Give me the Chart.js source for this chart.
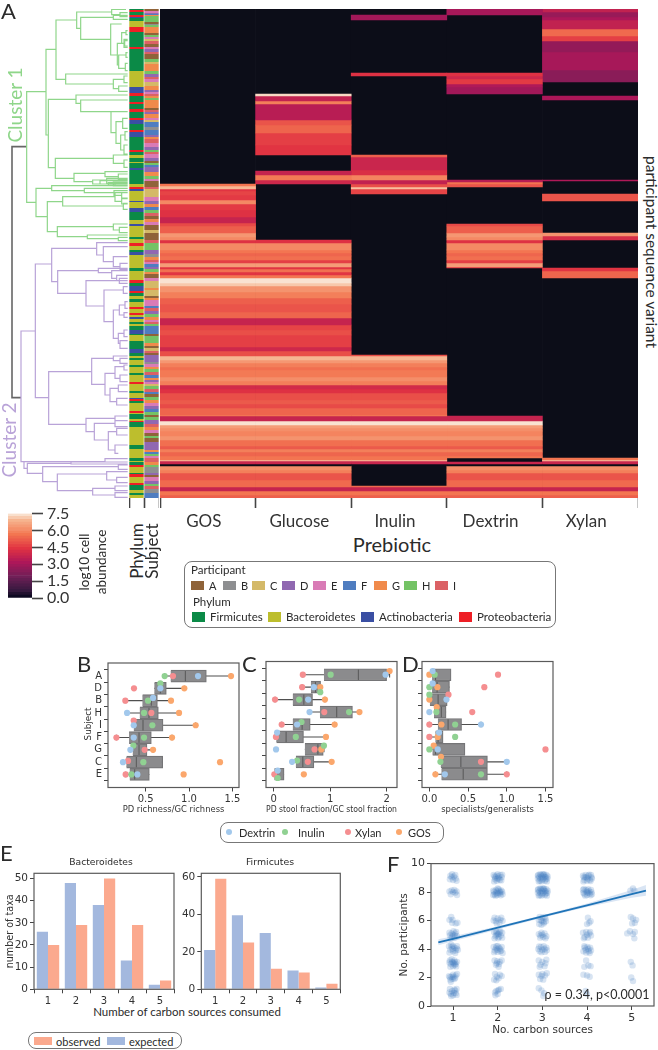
<!DOCTYPE html>
<html>
<head>
<meta charset="utf-8">
<title>Prebiotic figure</title>
<script src="https://cdn.jsdelivr.net/npm/chart.js@4/dist/chart.umd.js"></script>
<style>
html, body { margin: 0; padding: 0; background: #fff; }
#fig { position: relative; width: 658px; height: 1050px; overflow: hidden; }
#fig canvas { position: absolute; }
.txt { position: absolute; white-space: nowrap; color: #2b2b2b; line-height: 1; }
.box { position: absolute; border: 1px solid #777; border-radius: 8px; box-sizing: border-box; background: #fff; }
.sw { position: absolute; }
</style>
</head>
<body>
<div id="fig"></div>
<script>
// ---- panel A: heatmap, values are log10 abundance, rows are positions down the map
var prebiotics = ['GOS', 'Glucose', 'Inulin', 'Dextrin', 'Xylan'];

var stripeRows = [
  [184,186,5.6],[186,189,6.9],[189,191,4.4],[191,195,4.7],[195,200,4.5],[200,204,6.0],[204,210,4.5],[210,217,4.3],[217,223,3.7],
  [223,226,4.8],[226,233,5.2],[233,237,6.3],[237,240,6.0],[240,243,4.3],[243,250,6.0],[250,253,5.6],[253,256,5.3],[256,260,5.5],[260,263,4.6],
  [263,267,6.4],[267,269,4.4],[269,272,5.5],[272,275,4.4],[275,278,5.6],[278,283,7.4],[283,286,7.1],[286,292,6.2],
  [292,298,5.8],[298,304,5.2],[304,312,5.0],[312,318,5.3],[318,325,3.7],[325,330,4.7],[330,335,4.9],[335,347,4.6],[347,351,3.9],
  [351,356,4.9],[356,360,6.9],[360,363,6.3],[363,367,5.8],[367,370,5.5],[370,377,5.7],[377,381,6.1],[381,385,5.8],[385,389,4.0],[389,393,4.3],
  [393,400,4.9],[400,404,5.1],[404,408,4.8],[408,415,5.3],[415,416,5.7],[416,421,3.7],[421,425,7.4],[425,428,6.4],[428,431,6.1],[431,436,5.9],[436,440,6.2],
  [440,446,5.5],[446,449,5.1],[449,452,5.8],[452,456,5.3],[456,460,5.6],[460,461,7.0],[461,464,3.8],[464,466,0],[466,470,6.1],[470,473,5.8],[473,480,5.0],
  [480,487,5.4],[487,491,3.7],[491,495,5.6],[495,498,5.2]
];
// value ranges of every column where it follows the shared row stripes
var gosStripes = [[184,498]];
var glucoseStripes = [[240,498]];
var inulinStripes = [[355,465],[486,498]];
var dextrinStripes = [[224,268],[416,458],[462,498]];
var xylanStripes = [[458,498]];
// bands specific to one column
var gosBands = [];
var glucoseBands = [[94,96,7.3],[96,101,3.6],[101,104,5.8],[104,120,3.4],[120,125,5.0],[125,133,5.3],[133,145,4.6],[145,155,4.4],
  [171,175,3.7],[175,180,5.7],[180,184,3.9]];
var inulinBands = [[15,20,2.9],[73,76,4.3],[155,157,5.2],[157,170,3.8],[170,175,4.2],[175,180,5.9],[180,184,3.6],[184,187,4.9],[187,189,7.0],[189,194,4.7]];
var dextrinBands = [[9,15,3.0],[73,76,4.3],[76,79,3.9],[79,84,4.5],[84,87,3.2],[87,94,2.9],[180,182,3.4],[182,184,5.6],[184,187,5.0]];
var xylanBands = [[9,12,3.6],[12,17,2.7],[17,20,3.1],[20,29,3.6],[29,36,5.4],[36,41,4.6],[41,52,2.6],[52,70,3.0],[70,82,2.4],
  [96,100,3.1],[180,181,3.2],[194,201,5.0],[233,236,6.2],[236,240,4.1],[268,271,4.4],[271,278,5.3]];

var phylumCodes = { F: 'Firmicutes', B: 'Bacteroidetes', A: 'Actinobacteria', P: 'Proteobacteria' };
// runs down the phylum strip: [code, row where the run ends]
var phylumRuns = [['F',10],['P',12],['F',15],['P',17],['A',18],['F',21],['B',27],['P',32],['F',47],['P',49],['F',71],['B',87],['A',93],['P',96],
  ['F',102],['P',104],['F',109],['P',112],['F',118],['P',120],['A',124],['F',130],['P',132],['A',137],['F',150],['P',152],['F',155],['B',158],
  ['F',162],['B',163],['F',168],['A',170],['F',184],['B',187],['P',189],['A',191],['B',201],['A',202],['B',208],['A',212],['F',220],['B',224],
  ['A',226],['B',237],['F',239],['B',243],['P',246],['B',250],['F',252],['A',255],['B',268],['F',271],['B',280],['P',283],['F',286],['A',291],
  ['P',293],['F',296],['B',299],['F',302],['B',307],['P',309],['B',313],['P',315],['B',317],['A',319],['B',322],['F',324],['B',326],['F',330],
  ['A',334],['F',335],['B',341],['F',349],['A',353],['F',356],['B',358],['F',360],['B',365],['F',367],['B',373],['F',375],['B',382],['P',384],
  ['B',391],['F',393],['B',398],['A',399],['P',401],['F',403],['B',411],['P',413],['B',414],['F',419],['B',421],['P',422],['F',427],['B',445],
  ['F',449],['B',458],['F',461],['B',462],['F',465],['P',467],['B',473],['F',474],['P',477],['B',483],['P',485],['F',490],['B',493],['F',495],['B',498]];
// runs down the subject strip
var subjectRuns = [['A',11],['E',13],['D',14],['F',15],['G',16],['H',22],['A',24],['B',25],['H',27],['G',33],['A',35],['H',37],['E',39],['C',41],
  ['I',44],['A',47],['E',49],['D',52],['I',54],['A',59],['H',62],['C',64],['G',71],['H',74],['D',77],['I',79],['E',82],['C',86],['G',90],['D',92],
  ['E',94],['I',96],['G',98],['H',100],['G',108],['A',110],['I',112],['D',114],['G',118],['E',120],['C',122],['F',127],['B',130],['F',135],['D',137],
  ['G',139],['I',143],['E',147],['D',150],['H',152],['I',154],['E',158],['D',161],['A',163],['H',165],['F',167],['D',172],['G',176],['H',179],['E',181],
  ['A',187],['I',189],['C',197],['E',201],['D',204],['G',207],['F',210],['H',213],['I',216],['A',219],['G',222],['E',225],['A',230],['C',233],['A',240],
  ['I',243],['H',250],['D',254],['B',257],['G',260],['I',262],['E',264],['F',267],['D',269],['H',272],['G',274],['A',278],['E',281],['C',288],['G',290],
  ['C',296],['A',298],['G',300],['E',306],['F',308],['I',311],['D',314],['H',317],['G',320],['E',322],['I',324],['H',326],['F',334],['A',336],['H',343],
  ['G',346],['A',348],['C',351],['I',353],['A',355],['D',362],['B',364],['E',367],['G',369],['H',372],['I',375],['F',378],['G',380],['D',382],['E',384],
  ['C',386],['H',389],['I',392],['F',394],['A',397],['H',400],['G',403],['E',406],['D',409],['F',412],['H',415],['A',417],['H',420],['D',424],['I',427],
  ['G',430],['E',433],['A',436],['H',438],['A',442],['D',450],['G',452],['F',454],['H',456],['E',458],['I',462],['G',465],['H',467],['B',473],['D',475],
  ['A',477],['E',481],['D',484],['H',486],['I',489],['B',493],['F',498]];

// dendrogram links in tree units: [merge position, upper row, lower row, upper child position, lower child position]
var rootLink = [[36,440,1193,80,63]];
var cluster1Links = [[80,275,607,138,108],[138,148,405,168,145],[168,60,238,230,197],[230,36,85,335,242],[335,28,44,378,360],[360,38,50,383,383],
  [242,52,118,340,332],[340,46,58,383,383],[332,72,165,365,352],[365,98,130,378,374],[378,92,104,383,383],[374,122,138,383,383],[352,130,195,372,356],
  [372,118,142,383,383],[356,165,205,378,376],[378,158,172,383,383],[376,190,212,383,383],[197,222,252,383,340],[340,238,266,372,356],[372,228,248,383,383],
  [356,258,274,383,383],[145,298,503,228,166],[228,285,310,383,242],[242,300,335,383,333],[333,335,398,383,348],[348,365,430,368,362],[368,355,385,383,383],
  [362,405,450,375,372],[375,395,420,383,383],[372,435,462,383,383],[166,475,535,340,222],[340,465,490,383,372],[372,480,502,383,383],[222,520,545,315,278],
  [315,515,530,383,355],[355,522,538,383,383],[278,540,552,383,340],[340,546,558,383,383],[320,535,550,383,383],[300,542,552,383,383],[325,548,556,383,383],
  [345,552,558,383,383],[108,565,650,155,142],[155,557,572,383,253],[253,565,578,383,342],[342,572,586,383,365],[365,578,594,383,383],[142,605,695,188,172],
  [188,590,618,345,370],[345,578,604,383,365],[365,596,612,383,383],[370,610,628,383,383],[172,680,710,340,262],[340,672,690,383,358],[358,682,698,383,383],
  [262,705,716,383,355],[355,712,722,383,383]];
var cluster2Links = [[63,993,1385,106,72],[106,792,1193,155,146],[155,745,845,290,173],[290,728,765,383,310],[310,740,785,383,340],[340,770,800,383,360],
  [360,790,808,383,383],[173,812,880,295,258],[295,805,818,383,335],[335,812,835,383,350],[350,826,842,383,383],[258,842,918,358,312],[358,835,850,383,383],
  [312,870,965,370,340],[370,860,880,383,383],[340,930,1015,358,355],[358,915,945,375,372],[375,905,925,383,383],[372,938,952,383,383],[355,1000,1030,372,360],
  [372,990,1010,383,383],[360,1022,1045,383,383],[146,1115,1273,275,258],[275,1075,1153,340,315],[340,1068,1082,383,360],[360,1075,1090,383,383],
  [315,1120,1185,345,330],[345,1100,1135,372,360],[372,1095,1110,383,383],[360,1125,1145,383,383],[330,1165,1205,355,350],[355,1155,1175,383,383],
  [350,1195,1215,383,383],[258,1255,1295,345,283],[345,1248,1262,383,375],[283,1270,1320,345,325],[345,1262,1280,383,383],[325,1295,1350,350,345],
  [350,1285,1305,383,383],[345,1335,1360,383,355],[315,1376,1386,383,383],[213,1386,1392,383,383],[72,1385,1405,315,82],[82,1390,1420,213,128],
  [128,1400,1445,355,172],[355,1395,1408,383,383],[172,1422,1472,320,278],[320,1415,1440,383,350],[350,1432,1448,383,383],[278,1465,1485,345,345],
  [345,1458,1472,383,383],[345,1478,1492,383,383]];

var colorbarLevels = [0,0.25,0.5,0.75,1,1.25,1.5,1.75,2,2.25,2.5,2.75,3,3.25,3.5,3.75,4,4.25,4.5,4.75,5,5.25,5.5,5.75,6,6.25,6.5,6.75,7,7.25];
var colorbarTicks = [0, 1.5, 3, 4.5, 6, 7.5];

// ---- panels B, C, D: subjects top to bottom, boxes are [q1, q3], points are [value, row]
var subjects = ['A','D','B','H','I','F','G','C','E'];

var bBoxes = [[.788,1.2],[.6,.738],[.462,.635],[.431,.646],[.362,.7],[.308,.565],[.35,.515],[.277,.696],[.315,.542]];
var bMedians = [.958,.669,.565,.538,.469,.423,.423,.392,.373];
var bWhiskers = [[.719,1.485],[.6,.946],[.265,.792],[.285,.885],[.362,1.077],[.162,.804],[.323,.585],[.238,.696],[.269,.542]];
var bDextrin = [[1.104,0],[.669,1],[.585,1.78],[.285,3],[.362,4],[.362,5],[.323,6],[.238,7],[.404,8]];
var bInulin = [[.719,0],[.669,.6],[.527,2],[.481,3],[.577,4],[.481,5],[.358,5.65],[.473,7],[.335,8]];
var bXylan = [[.815,0],[.365,1],[.265,2],[.565,3],[.362,3.62],[.162,5],[.488,6],[.296,6.9],[.269,8]];
var bGOS = [[1.485,0],[.946,1],[.792,2],[.885,3],[1.077,4],[.804,5],[.585,6],[1.358,7],[.938,8]];

var cBoxes = [[.89,2.0],[.659,.831],[.338,.688],[.819,1.395],[.338,.647],[.047,.528],[.552,.878],[.392,.712],[.012,.184]];
var cMedians = [1.5,.74,.534,1.116,.504,.22,.783,.516,.06];
var cWhiskers = [[.516,2.053],[.504,.831],[.024,.908],[.635,1.519],[.142,1.08],[.04,.926],[.552,.89],[.326,1.027],[.012,.184]];
var cDextrin = [[1.982,0],[.712,1],[.611,2],[.635,3],[.415,4],[.06,4.65],[.042,6],[.326,7],[.071,7.7]];
var cInulin = [[1.009,0],[.825,1.4],[.451,2],[1.335,3],[.493,3.8],[.392,5],[.89,5.7],[.415,6.9],[.071,8.3]];
var cXylan = [[.516,0],[.504,1],[.024,2],[.896,3],[.142,4],[.04,5],[.724,6],[.605,7],[.012,8]];
var cGOS = [[2.053,-.3],[.825,1],[.908,2],[1.519,3],[1.08,4],[.926,5],[.843,6],[1.027,7],[.534,8]];

var dBoxes = [[.035,.28],[.035,.26],[0,.23],[.06,.216],[.11,.416],[.078,.177],[.04,.46],[.147,.75],[.156,.75]];
var dMedians = [.08,.1,.113,.155,.242,.113,.08,.407,.437];
var dWhiskers = [[.035,.28],[.035,.26],[0,.23],[.06,.216],[0,.667],[0,.177],[.04,.46],[.147,1.0],[.078,1.0]];
var dDextrin = [[.043,-.3],[.043,.7],[.221,2],[0,3],[.667,4],[.125,4.65],[.108,6],[1.0,7],[.2,8]];
var dInulin = [[.069,0],[0,1],[0,1.6],[.091,3],[.333,4],[.333,5],[0,6],[.143,7],[.667,8]];
var dXylan = [[.887,0],[.71,1],[.247,1.6],[.554,3],[0,4],[0,5],[1.5,6],[.667,7],[1.0,8]];
var dGOS = [[0,0],[.104,1],[0,2],[.095,2.6],[.156,4],[.108,5],[.056,5.7],[.15,6.6],[.078,8]];

// ---- panel E
var carbonCounts = ['1','2','3','4','5'];
var bacteroidetesExpected = [26,48,38,13,2];
var bacteroidetesObserved = [20,29,50,29,4];
var firmicutesExpected = [21,39.5,30,10,1];
var firmicutesObserved = [59,25,11,9,3];

// ---- panel F: points, [carbon sources, participants]
var fCol1 = [[.94,9.15],[.98,9.25],[1.02,9.1],[1.06,8.95],[.93,8.9],[1,8.85],[1.08,8.8],[.97,9.05],[1.05,9.2],
  [.92,8.05],[.95,7.85],[1,8],[1.05,7.95],[1.09,7.8],[1.03,8.15],[.97,8.12],[1.08,8.05],
  [.96,6.25],[.92,6.05],[.98,5.85],[1.06,5.8],[1.1,5.85],[.99,6.05],
  [.93,4.95],[.97,5.1],[1.01,5.25],[1.05,5.1],[1.09,4.9],[.95,4.75],[1.03,4.8],[1,5],[1.07,5.2],[.98,4.85],[1.04,4.95],[.92,5.15],
  [.91,4.2],[.94,3.95],[.97,4.15],[1,3.85],[1.03,4.1],[1.06,3.9],[1.09,4.2],[1.11,3.95],[.92,3.75],[.96,4.3],[1,4.22],[1.05,3.72],[1.08,4.05],[.99,4],
  [.93,3.2],[.95,2.95],[.98,3.1],[1,2.8],[1.03,3.2],[1.06,2.95],[1.09,3.1],[.94,2.75],[.97,3.28],[1.02,2.98],[1.05,3.08],[1.07,2.78],[.92,3.05],[1,3.05],[1.04,2.88],
  [.91,2.1],[.94,1.85],[.97,2.05],[1,2.2],[1.03,1.9],[1.06,2.15],[1.09,2.25],[.95,1.7],[.99,1.92],[1.05,1.98],[1.01,2.05],[.93,2.02],
  [.93,1.2],[.95,.85],[.98,1.05],[1,.75],[1.03,1.15],[1.06,.9],[1.08,1.2],[.96,.7],[1.02,.92],[1.05,1.08],[.92,.95],[1.08,.78]];
var fCol2 = [[1.91,9.2],[1.94,8.9],[1.97,9.15],[2,9.25],[2.03,8.95],[2.06,9.2],[2.09,9.05],[1.92,8.75],[1.95,9.02],[1.98,8.8],[2.02,9.1],[2.05,8.85],[2.1,9.22],[1.93,9.1],[2.08,8.82],[2,8.95],
  [1.9,8.1],[1.93,7.85],[1.96,8.15],[1.99,7.8],[2.02,8.2],[2.05,7.9],[2.08,8.12],[2.11,7.85],[1.92,8.02],[1.95,7.75],[1.98,8.05],[2.01,7.92],[2.04,8.08],[2.07,7.78],[2.1,8.02],[1.9,7.8],[2,8.25],[1.97,7.92],[2.06,8],
  [1.93,6.2],[1.96,5.95],[2,6.15],[2.04,5.85],[2.08,6.2],[2.11,5.98],[1.91,6],[1.98,5.8],[2.06,6.05],
  [1.92,5.2],[1.95,4.9],[1.98,5.15],[2.01,4.75],[2.04,5.2],[2.07,4.95],[2.1,5.15],[1.93,4.75],[1.97,4.98],[2,5.05],[2.03,4.85],[2.06,5.25],[2.1,4.8],[1.96,5.25],[2.02,5.08],
  [1.91,4.15],[1.94,3.9],[1.97,4.2],[2,3.8],[2.03,4.1],[2.06,3.85],[2.09,4.15],[2.11,3.72],[1.92,3.78],[1.96,4.05],[2,4.22],[2.05,4.02],[1.99,3.95],[2.08,3.9],
  [1.93,3.2],[1.96,2.9],[1.99,3.15],[2.02,2.75],[2.05,3.1],[2.09,3.2],[2.03,2.95],[1.98,3],
  [1.94,2.25],[1.92,1.85],[1.97,1.8],[2.05,2.2],[2.09,2.1],[2.02,1.95],[1.98,2.05],
  [1.95,.75],[1.97,1.05],[2,.85],[2.03,1.15],[2.07,1.2],[1.94,.95],[2.01,1.1]];
var fCol3 = [[2.91,9.2],[2.94,8.8],[2.97,9.2],[3,8.85],[3.03,9.2],[3.06,8.8],[3.09,9.2],[3.11,8.95],[2.9,8.95],[2.93,9.05],[2.96,8.95],[2.99,9.1],[3.02,8.95],[3.05,9.1],[3.08,8.9],[2.92,8.75],[2.98,8.75],[3.04,9.25],[3.1,8.75],[2.95,9.25],[3.01,9.25],[3.07,9.05],[2.9,9.15],[3.12,9.1],
  [2.91,8.2],[2.94,7.8],[2.97,8.2],[3,7.85],[3.03,8.2],[3.06,7.8],[3.09,8.2],[3.11,7.95],[2.9,7.95],[2.93,8.05],[2.96,7.95],[2.99,8.1],[3.02,7.95],[3.05,8.1],[3.08,7.9],[2.92,7.75],[2.98,7.75],[3.04,8.25],[3.1,7.75],[2.95,8.25],[3.01,8.25],[3.07,8.05],[2.9,8.15],[3.12,8.1],
  [2.94,6.25],[2.97,6],[3,6.2],[3.04,5.9],[3.07,6.15],[2.93,5.75],[2.98,5.7],[3.03,5.8],[3.08,5.95],[3,5.95],[3.05,6.25],[2.92,6.05],
  [2.92,5.05],[2.95,4.8],[2.98,5.15],[3.02,4.85],[3.05,5.1],[3.09,4.9],[3,5],[2.96,4.95],[3.07,4.75],
  [2.91,4],[2.94,3.85],[2.97,4.15],[3,3.95],[3.03,4.2],[3.06,3.8],[3.09,4.1],[2.93,4.18],[3.05,4],[2.98,3.78],[3.1,3.92],
  [2.92,3.2],[2.96,2.9],[3,3.1],[3.05,2.8],[3.09,3.25],[2.94,2.75],[3.07,3],
  [2.92,2.2],[2.95,1.9],[2.98,2.1],[3.02,1.85],[3.06,2.15],[3.1,2.3],[3,2.25],
  [2.92,1.25],[2.98,1.1],[3.04,.9],[3.02,.7]];
var fCol4 = [[3.91,9.15],[3.94,8.85],[3.97,9.2],[4,8.8],[4.03,9.15],[4.06,8.85],[4.09,9.2],[4.11,8.95],[3.92,8.75],[3.96,9.02],[3.99,9.05],[4.02,8.95],[4.05,9.22],[4.08,8.78],[3.93,9.05],[4.1,9.05],
  [3.91,8.15],[3.94,7.85],[3.97,8.15],[4,7.8],[4.03,8.2],[4.06,7.9],[4.09,8.15],[4.11,7.85],[3.92,7.95],[3.96,7.75],[3.99,8],[4.02,7.95],[4.05,8.05],[4.08,7.78],[3.93,8.22],[4.1,8],[4,8.1],
  [4.02,6.2],[4.05,5.85],[4.08,5.95],[4,5.75],
  [3.91,5.15],[3.95,4.85],[3.98,5.2],[4.02,4.8],[4.05,5.1],[4.09,4.95],[4,5],[3.93,4.75],[4.07,5.2],
  [3.92,3.85],[3.95,4.1],[3.98,3.75],[4.01,4.15],[4.04,3.85],[4.07,4.1],[4.09,3.9],[3.97,3.95],[4.03,4],[3.94,4.2],[4.06,3.72],
  [3.98,3.2],[3.94,2.75],[4.03,2.85],[4.08,2.8],
  [3.92,2.2],[4,2.15],[4.06,2.05],[3.97,1.05],[4,.85]];
var fCol5 = [[4.97,8.1],[5.03,8.25],[5.06,8.1],[4.98,6.25],[5.03,6.15],[5.07,5.85],[5.1,6.05],[5.01,5.8],[4.9,5.1],[4.96,5.25],[5.03,5.05],[5.07,5.2],[5.06,4.75],[4.98,3.1],[5.02,2.85],[4.99,2],[5.03,1.75]];
var fLineX = [.67,1,2,3,4,5,5.32];
var fLineY = [4.46,4.72,5.5,6.29,7.07,7.86,8.11];
var fBandUpper = [4.68,4.9,5.6,6.38,7.2,8.15,8.5];
var fBandLower = [4.27,4.55,5.38,6.2,6.95,7.6,7.75];

// ---- colours
var rocketStops = ['#03051a','#35193e','#701f57','#ad1759','#e13342','#f37651','#f6b48f','#faebdd'];
var rocketPos = [0, 1/12, 3/12, 5/12, 7/12, 9/12, 11/12, 1];
var heatBackground = '#0c0d18';
var phylumColors = { Firmicutes: '#0b8a47', Bacteroidetes: '#bdbe2d', Actinobacteria: '#3a4fa3', Proteobacteria: '#ee1f26' };
var participantColors = { A: '#8f6339', B: '#8e8f91', C: '#d4b968', D: '#9068b1', E: '#d97bb6', F: '#4f7dc0', G: '#f08a4b', H: '#74c365', I: '#db6165' };
var prebioticDots = { Dextrin: '#a2c8ec', Inulin: '#90d192', Xylan: '#f58e90', GOS: '#fba76c' };
var observedColor = '#fba98e', expectedColor = '#a3b8de';

var SANS = 'Lato, "Open Sans", sans-serif';
var DEJA = '"DejaVu Sans", sans-serif';
var fig = document.getElementById('fig');

Chart.defaults.animation = false;
Chart.defaults.responsive = false;
Chart.defaults.devicePixelRatio = 1;
Chart.defaults.plugins.legend.display = false;
Chart.defaults.plugins.tooltip.enabled = false;
Chart.defaults.color = '#333';

function hexRgb(h) {
  return [parseInt(h.substr(1,2),16), parseInt(h.substr(3,2),16), parseInt(h.substr(5,2),16)];
}
function rocket(v) {
  if (v <= 0) return heatBackground;
  var p = Math.min(1, v / 7.5), i = 0;
  while (i < rocketPos.length - 2 && p > rocketPos[i+1]) i++;
  var a = hexRgb(rocketStops[i]), b = hexRgb(rocketStops[i+1]);
  var t = (p - rocketPos[i]) / (rocketPos[i+1] - rocketPos[i]);
  return 'rgb(' + a.map(function(c, k){ return Math.round(c + (b[k]-c)*t); }).join(',') + ')';
}

function addText(text, x, y, size, o) {
  o = o || {};
  var d = document.createElement('div');
  d.className = 'txt';
  d.textContent = text;
  d.style.left = x + 'px';
  d.style.top = y + 'px';
  d.style.fontSize = size + 'px';
  d.style.fontFamily = o.font || SANS;
  if (o.color) d.style.color = o.color;
  var anchor = o.anchor === 'left' ? '0' : '-50%';
  d.style.transform = 'translate(' + anchor + ',-50%)' + (o.rot ? ' rotate(' + o.rot + 'deg)' : '');
  fig.appendChild(d);
}
function addBox(x, y, w, h) {
  var d = document.createElement('div');
  d.className = 'box';
  d.style.cssText = 'left:' + x + 'px;top:' + y + 'px;width:' + w + 'px;height:' + h + 'px';
  fig.appendChild(d);
}
function addSwatch(color, x, y, w, h, round) {
  var d = document.createElement('div');
  d.className = 'sw';
  d.style.cssText = 'left:' + x + 'px;top:' + y + 'px;width:' + w + 'px;height:' + h + 'px;background:' + color + (round ? ';border-radius:50%' : '');
  fig.appendChild(d);
}

// canvas at outer box, axes get fixed sizes so the plot area lands on the plot box
function makeChart(outer, plot, config) {
  var c = document.createElement('canvas');
  c.width = outer.w; c.height = outer.h;
  c.style.left = outer.x + 'px'; c.style.top = outer.y + 'px';
  fig.appendChild(c);
  var opt = config.options = config.options || {};
  var sx = opt.scales.x, sy = opt.scales.y;
  var leftGap = plot.x - outer.x, rightGap = outer.x + outer.w - plot.x - plot.w, bottomGap = outer.y + outer.h - plot.y - plot.h;
  var xShown = sx.display !== false, yShown = sy.display !== false, yRight = sy.position === 'right';
  opt.layout = { autoPadding: false, padding: {
    left: yShown && !yRight ? 0 : leftGap,
    right: yShown && yRight ? 0 : rightGap,
    top: plot.y - outer.y,
    bottom: xShown ? 0 : bottomGap
  } };
  sx.afterFit = function(s){ s.height = bottomGap; };
  sy.afterFit = function(s){ s.width = yRight ? rightGap : leftGap; };
  return new Chart(c.getContext('2d'), config);
}
function at(list) {
  return function(s) { s.ticks = list.map(function(v){ return { value: v }; }); };
}

var framePlugin = {
  id: 'frame',
  afterDatasetsDraw: function(chart) {
    var a = chart.chartArea, g = chart.ctx;
    g.save();
    g.strokeStyle = '#5a5a5a';
    g.lineWidth = 1.2;
    g.strokeRect(a.left, a.top, a.right - a.left, a.bottom - a.top);
    g.restore();
  }
};

function axisTicks(size, font, extra) {
  return Object.assign({ font: { size: size, family: font || DEJA }, color: '#333', padding: 2 }, extra || {});
}
var tickMarks = { display: true, drawOnChartArea: false, drawTicks: true, tickLength: 4, tickWidth: 1, tickColor: '#444' };
var noBorder = { display: false };

// ---- heatmap
function clipStripes(ranges) {
  var out = [];
  ranges.forEach(function(r) {
    stripeRows.forEach(function(s) {
      var a = Math.max(r[0], s[0]), b = Math.min(r[1], s[1]);
      if (b > a) out.push([a, b, s[2]]);
    });
  });
  return out;
}
var heatColumns = [
  gosBands.concat(clipStripes(gosStripes)),
  glucoseBands.concat(clipStripes(glucoseStripes)),
  inulinBands.concat(clipStripes(inulinStripes)),
  dextrinBands.concat(clipStripes(dextrinStripes)),
  xylanBands.concat(clipStripes(xylanStripes))
];
var heatSets = [{ data: prebiotics.map(function(){ return [9, 498]; }), backgroundColor: heatBackground, order: 5 }];
heatColumns.forEach(function(bands, col) {
  bands.forEach(function(b) {
    var d = prebiotics.map(function(){ return null; });
    d[col] = [b[0], b[1]];
    heatSets.push({ data: d, backgroundColor: rocket(b[2]), order: 1 });
  });
});
makeChart({ x: 160, y: 0, w: 478, h: 532 }, { x: 160, y: 9, w: 478, h: 489 }, {
  type: 'bar',
  data: { labels: prebiotics, datasets: heatSets },
  options: {
    datasets: { bar: { grouped: false, barPercentage: 1, categoryPercentage: 1 } },
    scales: {
      x: { grid: Object.assign({}, tickMarks, { tickLength: 10, tickWidth: 1.6 }), border: noBorder,
           ticks: { font: { size: 17, family: SANS }, color: '#333', padding: 3, maxRotation: 0, labelOffset: -4 } },
      y: { display: false, min: 9, max: 498, reverse: true }
    }
  }
});

// ---- phylum / subject strips
function stripSets(runs, col, colorOf) {
  var from = 9;
  return runs.map(function(r) {
    var d = [null, null];
    d[col] = [from, r[1]];
    from = r[1];
    return { data: d, backgroundColor: colorOf(r[0]) };
  });
}
var stripData = stripSets(phylumRuns, 0, function(c){ return phylumColors[phylumCodes[c]]; })
  .concat(stripSets(subjectRuns, 1, function(c){ return participantColors[c]; }));
makeChart({ x: 129, y: 0, w: 30, h: 512 }, { x: 129, y: 9, w: 30, h: 489 }, {
  type: 'bar',
  data: { labels: ['Phylum', 'Subject'], datasets: stripData },
  options: {
    datasets: { bar: { grouped: false, barPercentage: 1, categoryPercentage: 0.96, inflateAmount: 0 } },
    scales: {
      x: { grid: Object.assign({}, tickMarks, { tickLength: 10, tickWidth: 1.6 }), border: noBorder,
           ticks: { display: false } },
      y: { display: false, min: 9, max: 498, reverse: true }
    }
  }
});

// ---- dendrogram
function linkPoints(links) {
  var pts = [];
  links.forEach(function(l) {
    pts.push({x:l[3],y:l[1]},{x:l[0],y:l[1]},{x:l[0],y:l[2]},{x:l[4],y:l[2]},{x:NaN,y:NaN});
  });
  return pts;
}
function treeSet(links, color, width) {
  return { data: linkPoints(links), borderColor: color, borderWidth: width, showLine: true, pointRadius: 0, spanGaps: false, tension: 0 };
}
makeChart({ x: 0, y: 9, w: 128, h: 489 }, { x: 0, y: 9, w: 128, h: 489 }, {
  type: 'scatter',
  data: { datasets: [
    treeSet(cluster1Links, '#8fd68a', 1.2),
    treeSet(cluster2Links, '#b9a3d8', 1.2),
    treeSet(rootLink, '#666666', 1.6)
  ] },
  options: { scales: {
    x: { display: false, min: 0, max: 384 },
    y: { display: false, min: 27, max: 1494, reverse: true }
  } }
});

// ---- colour bar
var cbarSets = colorbarLevels.map(function(v) {
  return { data: [[v, v + 0.25]], backgroundColor: rocket(v + 0.12) };
});
makeChart({ x: 0, y: 500, w: 80, h: 120 }, { x: 8, y: 512, w: 24, h: 97 }, {
  type: 'bar',
  data: { labels: [''], datasets: cbarSets },
  options: {
    datasets: { bar: { grouped: false, barPercentage: 1, categoryPercentage: 1 } },
    scales: {
      x: { display: false },
      y: { position: 'right', min: 0, max: 7.5, afterBuildTicks: at(colorbarTicks), border: noBorder,
           grid: Object.assign({}, tickMarks, { tickLength: 11, tickWidth: 1.6 }),
           ticks: { font: { size: 16, family: SANS }, color: '#333', padding: 4, autoSkip: false,
                    callback: function(v){ return v.toFixed(1); } } }
    }
  }
});

// ---- box panels
function boxChart(plotX, boxes, medians, whiskers, series, xMin, xMax, xTicks, fmt, xTitle, showLabels) {
  var rows = subjects.map(function(s, i){ return i; });
  var whiskerPts = [], medianPts = [];
  rows.forEach(function(i) {
    whiskerPts.push({x:whiskers[i][0],y:i},{x:whiskers[i][1],y:i},{x:NaN,y:NaN});
    [0,1].forEach(function(e) {
      if (whiskers[i][e] !== boxes[i][e]) whiskerPts.push({x:whiskers[i][e],y:i-.22},{x:whiskers[i][e],y:i+.22},{x:NaN,y:NaN});
    });
    medianPts.push({x:medians[i],y:i-.42},{x:medians[i],y:i+.42},{x:NaN,y:NaN});
  });
  var sets = [
    { type: 'bar', indexAxis: 'y', data: rows.map(function(i){ return { x: boxes[i], y: i }; }),
      backgroundColor: '#8b8b8d', borderColor: '#757577', borderWidth: 1.2, barThickness: 12, order: 3 },
    { type: 'scatter', data: whiskerPts, showLine: true, borderColor: '#4f4f4f', borderWidth: 1.1, pointRadius: 0, order: 4 },
    { type: 'scatter', data: medianPts, showLine: true, borderColor: '#5c5c5c', borderWidth: 1.1, pointRadius: 0, order: 2 }
  ];
  series.forEach(function(s) {
    sets.push({ type: 'scatter', data: s[0].map(function(p){ return { x: p[0], y: p[1] }; }),
      backgroundColor: prebioticDots[s[1]], borderWidth: 0, pointRadius: 3.1, order: 1 });
  });
  makeChart({ x: plotX - 25, y: 655, w: 131 + 40, h: 160 }, { x: plotX, y: 661.5, w: 131, h: 126 }, {
    data: { datasets: sets },
    options: {
      scales: {
        x: { type: 'linear', min: xMin, max: xMax, afterBuildTicks: at(xTicks), border: noBorder,
             grid: tickMarks,
             ticks: Object.assign(axisTicks(10), { callback: fmt, maxRotation: 0 }),
             title: { display: true, text: xTitle, font: { size: 8.4, family: DEJA }, color: '#333', padding: { top: 3, bottom: 0 } } },
        y: { type: 'linear', min: -.5, max: 8.5, reverse: true, afterBuildTicks: at(rows), border: noBorder,
             grid: tickMarks,
             ticks: Object.assign(axisTicks(10), { display: showLabels, autoSkip: false,
               callback: function(v){ return subjects[v]; } }) }
      }
    },
    plugins: [framePlugin]
  });
}
var oneDecimal = function(v){ return v.toFixed(1); };
boxChart(108.3, bBoxes, bMedians, bWhiskers, [[bDextrin,'Dextrin'],[bInulin,'Inulin'],[bXylan,'Xylan'],[bGOS,'GOS']],
  .065, 1.577, [.5,1,1.5], oneDecimal, 'PD richness/GC richness', true);
boxChart(265.5, cBoxes, cMedians, cWhiskers, [[cDextrin,'Dextrin'],[cInulin,'Inulin'],[cXylan,'Xylan'],[cGOS,'GOS']],
  -.136, 2.184, [0,1,2], function(v){ return String(v); }, 'PD stool fraction/GC stool fraction', false);
boxChart(422, dBoxes, dMedians, dWhiskers, [[dDextrin,'Dextrin'],[dInulin,'Inulin'],[dXylan,'Xylan'],[dGOS,'GOS']],
  -.095, 1.597, [0,.5,1,1.5], oneDecimal, 'specialists/generalists', false);

// ---- panel E
function barChart(outer, plot, expected, observed, yMax, yTicks, yTitle) {
  makeChart(outer, plot, {
    type: 'bar',
    data: { labels: carbonCounts, datasets: [
      { label: 'expected', data: expected, backgroundColor: expectedColor },
      { label: 'observed', data: observed, backgroundColor: observedColor }
    ] },
    options: {
      datasets: { bar: { barPercentage: 1, categoryPercentage: 0.8 } },
      scales: {
        x: { grid: tickMarks, border: noBorder, ticks: axisTicks(10, DEJA, { maxRotation: 0 }) },
        y: { min: 0, max: yMax, afterBuildTicks: at(yTicks), grid: tickMarks, border: noBorder,
             ticks: axisTicks(10.5),
             title: { display: !!yTitle, text: yTitle, font: { size: 9.6, family: DEJA }, color: '#333', padding: 0 } }
      }
    },
    plugins: [framePlugin]
  });
}
barChart({ x: 5, y: 865, w: 173, h: 140 }, { x: 34, y: 870.7, w: 140, h: 118.6 }, bacteroidetesExpected, bacteroidetesObserved, 52.35, [0,10,20,30,40,50], 'number of taxa');
barChart({ x: 178, y: 865, w: 166, h: 140 }, { x: 201.3, y: 870.7, w: 139, h: 118.6 }, firmicutesExpected, firmicutesObserved, 61.9, [0,20,40,60], '');

// ---- panel F
function pairPoints(list) {
  return list.map(function(p){ return { x: p[0], y: p[1] }; });
}
function curve(ys) {
  return fLineX.map(function(x, i){ return { x: x, y: ys[i] }; });
}
var dotStyle = { backgroundColor: 'rgba(58,120,188,0.2)', borderWidth: 0, pointRadius: 3.2 };
var fSets = [fCol1, fCol2, fCol3, fCol4, fCol5].map(function(col) {
  return Object.assign({ data: pairPoints(col), order: 3 }, dotStyle);
});
fSets.push({ data: curve(fBandUpper), showLine: true, borderWidth: 0, pointRadius: 0, fill: '+1', backgroundColor: 'rgba(120,160,215,0.28)', order: 2 });
fSets.push({ data: curve(fBandLower), showLine: true, borderWidth: 0, pointRadius: 0, order: 2 });
fSets.push({ data: curve(fLineY), showLine: true, borderColor: '#1f74b8', borderWidth: 1.8, pointRadius: 0, order: 1 });
makeChart({ x: 398, y: 855, w: 260, h: 182 }, { x: 431, y: 861.7, w: 223, h: 144.3 }, {
  type: 'scatter',
  data: { datasets: fSets },
  options: {
    scales: {
      x: { min: .507, max: 5.5, afterBuildTicks: at([1,2,3,4,5]), grid: tickMarks, border: noBorder,
           ticks: axisTicks(11, DEJA, { maxRotation: 0 }),
           title: { display: true, text: 'No. carbon sources', font: { size: 10.5, family: DEJA }, color: '#333', padding: { top: 2, bottom: 0 } } },
      y: { min: 0, max: 10, afterBuildTicks: at([0,2,4,6,8,10]), grid: tickMarks, border: noBorder,
           ticks: axisTicks(11),
           title: { display: true, text: 'No. participants', font: { size: 10.5, family: DEJA }, color: '#333', padding: 0 } }
    }
  },
  plugins: [framePlugin]
});

// ---- text and legends
addText('A', 1, 11, 22, { anchor: 'left' });
addText('B', 77, 664, 22, { anchor: 'left' });
addText('C', 242, 664, 22, { anchor: 'left' });
addText('D', 402, 664, 22, { anchor: 'left' });
addText('E', 0, 853, 22, { anchor: 'left' });
addText('F', 387, 864, 22, { anchor: 'left' });
addText('Cluster 1', 14, 105, 19, { rot: -90, color: '#8fd68a' });
addText('Cluster 2', 8, 440, 19, { rot: -90, color: '#b9a3d8' });
addText('participant sequence variant', 651, 252, 15.5, { rot: 90 });
addText('Prebiotic', 392, 544, 20);
addText('Phylum', 136, 551, 17, { rot: -90 });
addText('Subject', 151, 551, 17, { rot: -90 });
addText('log10 cell', 85, 562, 13.5, { rot: -90 });
addText('abundance', 102, 562, 13.5, { rot: -90 });
addText('Subject', 88, 724, 8.8, { font: DEJA, rot: -90 });
addText('Bacteroidetes', 101, 862, 9.2, { font: DEJA });
addText('Firmicutes', 270, 862, 9.4, { font: DEJA });
addText('Number of carbon sources consumed', 187, 1012, 11.5);
addText('\u03c1 = 0.34, p<0.0001', 597, 995, 12.5);

addBox(184, 561, 372, 67);
addText('Participant', 191, 570, 11.5, { anchor: 'left' });
addText('Phylum', 193, 602, 11.5, { anchor: 'left' });
var participantSwatchX = [191, 223, 252, 282, 313, 343, 374, 404, 435];
Object.keys(participantColors).forEach(function(k, i) {
  addSwatch(participantColors[k], participantSwatchX[i], 581, 13, 9);
  addText(k, participantSwatchX[i] + 18, 585, 11, { anchor: 'left' });
});
var phylumSwatchX = [192, 268, 361, 459];
Object.keys(phylumColors).forEach(function(k, i) {
  addSwatch(phylumColors[k], phylumSwatchX[i], 612, 13, 10);
  addText(k, phylumSwatchX[i] + 18, 617, 11.5, { anchor: 'left' });
});

addBox(220, 822, 224, 21);
var dotLegendX = [229, 285, 348, 399], dotTextX = [239, 298, 355, 408];
Object.keys(prebioticDots).forEach(function(k, i) {
  addSwatch(prebioticDots[k], dotLegendX[i] - 3, 829, 6, 6, true);
  addText(k, dotTextX[i], 832, 11, { anchor: 'left' });
});

addBox(28, 1032, 154, 17);
addSwatch(observedColor, 34, 1037, 18, 8);
addText('observed', 56, 1041, 11, { anchor: 'left' });
addSwatch(expectedColor, 107, 1037, 18, 8);
addText('expected', 129, 1041, 11, { anchor: 'left' });
</script>
</body>
</html>
